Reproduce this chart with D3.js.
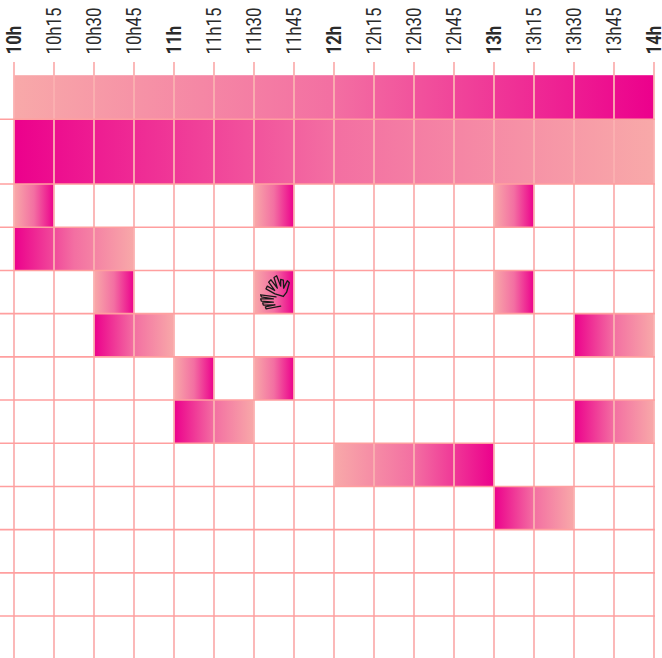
<!DOCTYPE html>
<html>
<head>
<meta charset="utf-8">
<script src="https://cdn.jsdelivr.net/npm/d3@7"></script>
<style>
    html, body { margin: 0; padding: 0; background: #fff; }
    svg { display: block; }
</style>
</head>
<body>
<div id="chart"></div>
<script>
// Time ticks, bold ones fall on the full hour
const timeLabels = ["10h", "10h15", "10h30", "10h45", "11h", "11h15", "11h30", "11h45", "12h",
    "12h15", "12h30", "12h45", "13h", "13h15", "13h30", "13h45", "14h"];

// Relative height of each row
const rowHeights = [1.02, 1.5, 1, 1, 1, 1, 1, 1, 1, 1, 1, 1, 1, 1];

// One entry per block: row, start, end, and where the dark end sits
const blockRows = [0, 1, 2, 2, 2, 3, 4, 4, 4, 5, 5, 6, 6, 7, 7, 8, 9];
const blockStarts = ["10h", "10h", "10h", "11h30", "13h", "10h", "10h30", "11h30", "13h", "10h30", "13h30",
    "11h", "11h30", "11h", "13h30", "12h", "13h"];
const blockEnds = ["14h", "14h", "10h15", "11h45", "13h15", "10h45", "10h45", "11h45", "13h15", "11h", "14h",
    "11h15", "11h45", "11h30", "14h", "13h", "13h30"];
const blockDarkEnd = ["right", "left", "right", "right", "right", "left", "right", "right", "right", "left", "left",
    "right", "right", "left", "left", "right", "left"];

// Block that carries the sign language pictogram
const iconRow = 4;
const iconTime = "11h30";

const width = 662, height = 658;
const gridTop = 62, bodyTop = 75.2;
const rowStep = 43.2;
const lightPink = "#f8a9a9", midPink = "#f36fa2", darkPink = "#ec008c";

const svg = d3.select("#chart").append("svg")
    .attr("width", width)
    .attr("height", height);

const x = d3.scalePoint()
    .domain(timeLabels)
    .range([14, 654]);

const rowEdges = [0, ...d3.cumsum(rowHeights)];
const y = d3.scaleLinear()
    .domain([0, d3.sum(rowHeights)])
    .range([bodyTop, bodyTop + d3.sum(rowHeights) * rowStep]);

const blocks = blockRows.map((row, i) => ({
    row: row,
    start: blockStarts[i],
    end: blockEnds[i],
    dark: blockDarkEnd[i]
}));

// Gradients
const defs = svg.append("defs");
[["toRight", lightPink, darkPink], ["toLeft", darkPink, lightPink]].forEach(g => {
    const grad = defs.append("linearGradient").attr("id", g[0]);
    grad.append("stop").attr("offset", "0%").attr("stop-color", g[1]);
    grad.append("stop").attr("offset", "50%").attr("stop-color", midPink);
    grad.append("stop").attr("offset", "100%").attr("stop-color", g[2]);
});

// Blocks
svg.append("g").selectAll("rect")
    .data(blocks)
    .enter()
    .append("rect")
    .attr("x", d => x(d.start))
    .attr("y", d => y(rowEdges[d.row]))
    .attr("width", d => x(d.end) - x(d.start))
    .attr("height", d => y(rowEdges[d.row + 1]) - y(rowEdges[d.row]))
    .attr("fill", d => d.dark === "right" ? "url(#toRight)" : "url(#toLeft)");

// Grid
svg.append("g").selectAll("line")
    .data(timeLabels)
    .enter()
    .append("line")
    .attr("x1", d => x(d))
    .attr("x2", d => x(d))
    .attr("y1", gridTop)
    .attr("y2", height)
    .attr("stroke", "#fbb1b1")
    .attr("stroke-width", 1.8);

svg.append("g").selectAll("line")
    .data(rowEdges.slice(1, -1))
    .enter()
    .append("line")
    .attr("x1", 0)
    .attr("x2", x.range()[1] + 0.9)
    .attr("y1", d => y(d))
    .attr("y2", d => y(d))
    .attr("stroke", "#ff9f9f")
    .attr("stroke-width", 1.6);

// Tick labels, squeezed along their length since no condensed face is installed
svg.append("g").selectAll("text")
    .data(timeLabels)
    .enter()
    .append("text")
    .attr("transform", d => `translate(${x(d) + 6.5},54.5) rotate(-90) scale(0.84,1)`)
    .attr("font-family", "Roboto, sans-serif")
    .attr("font-size", 20)
    .attr("font-weight", d => d.endsWith("h") ? 700 : 400)
    .attr("fill", "#2b2b2b")
    .text(d => d);

// Pictogram: two signing hands, drawn relative to the block corner
const hands = svg.append("g")
    .attr("transform", `translate(${x(iconTime)},${y(rowEdges[iconRow])}) scale(0.3333) translate(-42,-15)`)
    .attr("fill", "none")
    .attr("stroke", "#1a1a1a")
    .attr("stroke-width", 4)
    .attr("stroke-linejoin", "round")
    .attr("stroke-linecap", "round");

// upper hand
hands.append("path")
    .attr("d", "M105,85 L78,70 L82,62 L104,75 L86,50 L93,43 L112,68 L102,36 L110,31 L122,62 L122,42 L130,44 L131,68 L142,46 L148,52 L140,80 L130,93 L115,88 Z");
// lower hand, zigzag fingers
hands.append("path")
    .attr("d", "M108,94 L62,88 L64,94 L100,100 L62,100 L64,107 L100,110 L68,112 L70,119 L105,118 L76,124 L78,130 L122,122");
</script>
</body>
</html>
